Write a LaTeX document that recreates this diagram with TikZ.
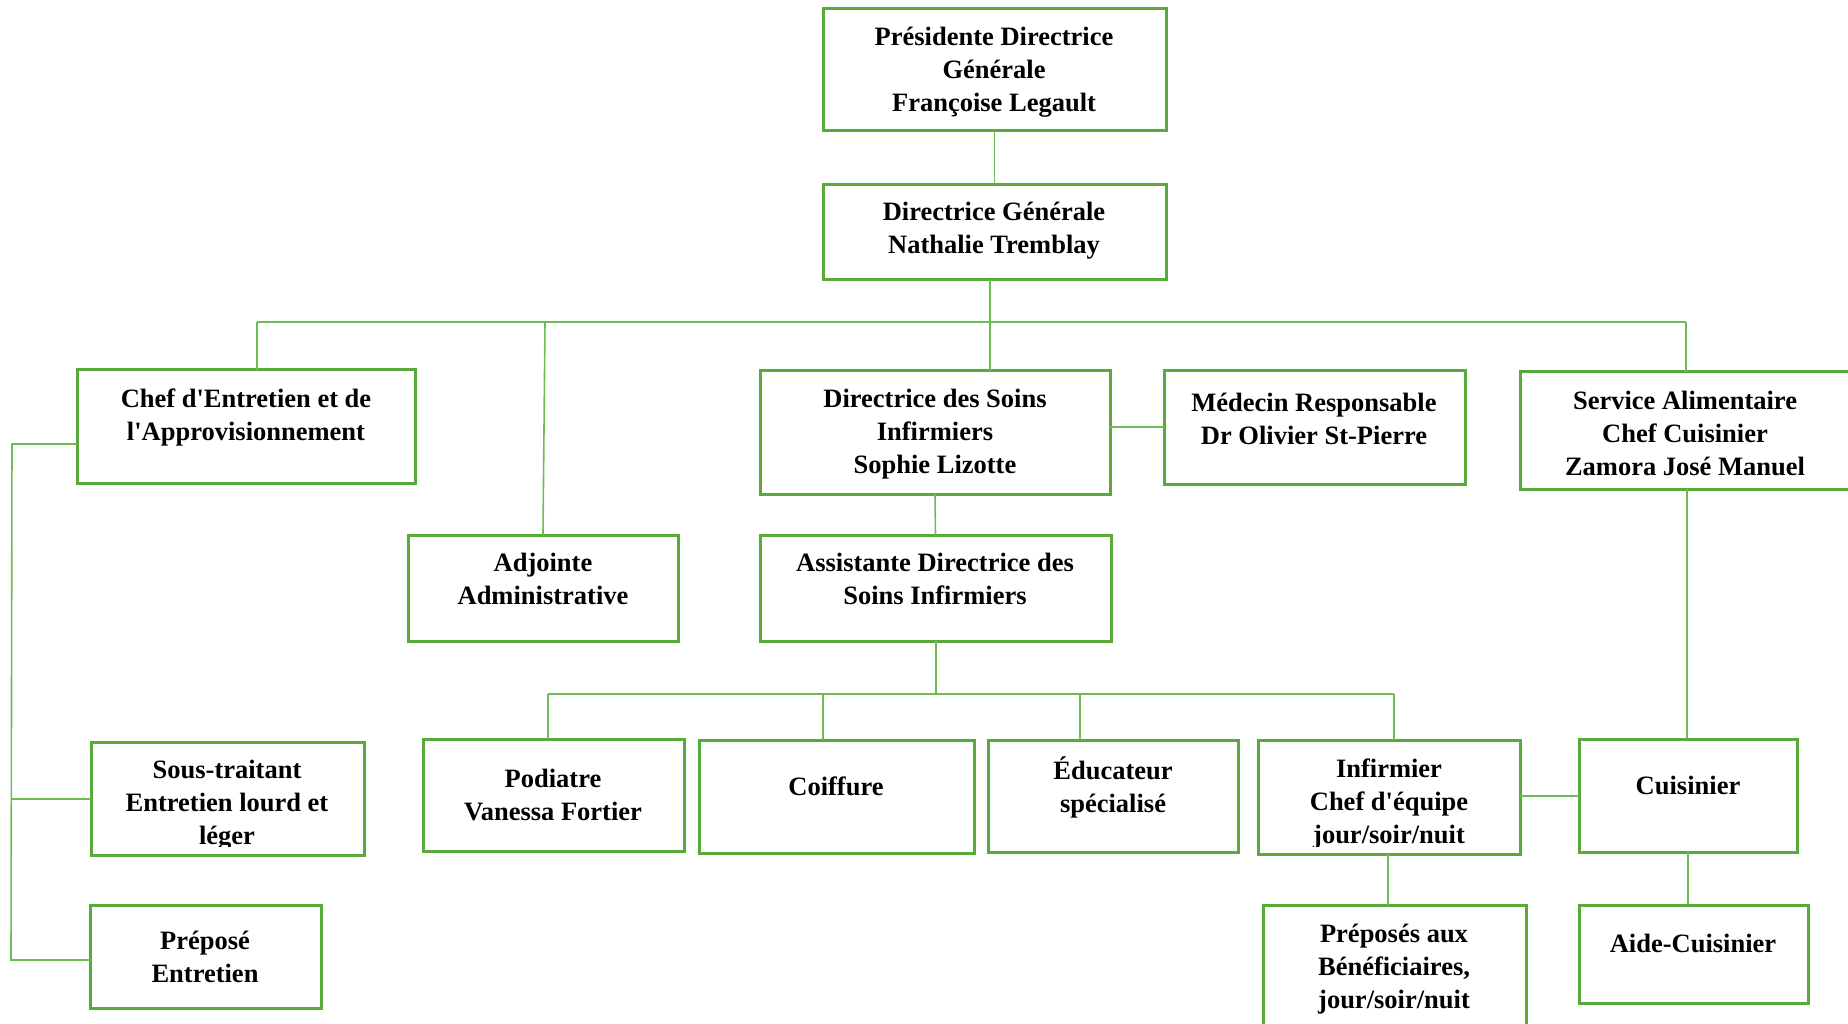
\documentclass[tikz,border=0pt]{standalone}
\usepackage{fontspec}
\setmainfont{Liberation Serif}
\definecolor{boxgreen}{RGB}{88,170,60}
\definecolor{linegreen}{RGB}{108,188,84}
\newcommand{\q}{\textquotesingle}
\tikzset{
  orgbox/.style={draw=boxgreen, line width=3pt, inner sep=0pt, outer sep=0pt, fill=none},
  orgtxt/.style={font=\fontsize{26.5}{33}\selectfont\bfseries, align=center, inner sep=0pt, anchor=base},
  conn/.style={draw=linegreen, line width=1.6pt},
}
% \mkbox{name}{x1}{y1}{x2}{y2}
\newcommand{\mkbox}[5]{%
  \node[orgbox, minimum width={(#4-#2)*1pt}, minimum height={(#5-#3)*1pt}] (#1) at ({(#2+#4)/2},{(#3+#5)/2}) {};}
% \mktxt{name}{x}{first baseline y}{number of lines}{text}
\newcommand{\mktxt}[5]{\node[orgtxt] (#1) at (#2,{#3+(#4-1)*33}) {#5};}
\begin{document}
\begin{tikzpicture}[x=1pt, y=-1pt]
\useasboundingbox (0,0) rectangle (1848,1024);
\fill[white] (0,0) rectangle (1848,1024);

% boxes
\mkbox{pdg}{823}{9}{1166}{131}
\mkbox{dg}{823}{185}{1166}{280}
\mkbox{chef}{77}{370}{415}{483}
\mkbox{adj}{408}{535}{678}{641}
\mkbox{dsi}{760}{371}{1110}{494}
\mkbox{med}{1164}{371}{1465}{484}
\mkbox{serv}{1520}{372}{1856}{489}
\mkbox{adsi}{760}{535}{1111}{641}
\mkbox{sous}{91}{742}{364}{855}
\mkbox{prep}{90}{905}{321}{1008}
\mkbox{pod}{423}{739}{684}{851}
\mkbox{coif}{699}{740}{974}{853}
\mkbox{educ}{988}{740}{1238}{852}
\mkbox{inf}{1258}{740}{1520}{854}
\mkbox{cuis}{1579}{739}{1797}{852}
\mkbox{pab}{1263}{905}{1526}{1040}
\mkbox{aide}{1579}{905}{1808}{1003}

% texts
\mktxt{pdg-t}{994}{46}{3}{Présidente Directrice\\Générale\\Françoise Legault}
\mktxt{dg-t}{994}{221}{2}{Directrice Générale\\Nathalie Tremblay}
\mktxt{chef-t}{246}{407}{2}{Chef d\q Entretien et de\\l\q Approvisionnement}
\mktxt{adj-t}{543}{571}{2}{Adjointe\\Administrative}
\mktxt{dsi-t}{935}{407}{3}{Directrice des Soins\\Infirmiers\\Sophie Lizotte}
\mktxt{med-t}{1314}{411}{2}{Médecin Responsable\\Dr Olivier St-Pierre}
\mktxt{serv-t}{1685}{409}{3}{Service Alimentaire\\Chef Cuisinier\\Zamora José Manuel}
\mktxt{adsi-t}{935}{571}{2}{Assistante Directrice des\\Soins Infirmiers}
\begin{scope}
  \clip (91,742) rectangle (364,846);
  \mktxt{sous-t}{227}{778}{3}{Sous-traitant\\Entretien lourd et\\léger}
\end{scope}
\mktxt{prep-t}{205}{949}{2}{Préposé\\Entretien}
\mktxt{pod-t}{553}{787}{2}{Podiatre\\Vanessa Fortier}
\mktxt{coif-t}{836}{795}{1}{Coiffure}
\mktxt{educ-t}{1113}{779}{2}{Éducateur\\spécialisé}
\begin{scope}
  \clip (1258,740) rectangle (1520,846);
  \mktxt{inf-t}{1389}{777}{3}{Infirmier\\Chef d\q équipe\\jour/soir/nuit}
\end{scope}
\mktxt{cuis-t}{1688}{794}{1}{Cuisinier}
\mktxt{pab-t}{1394}{942}{3}{Préposés aux\\Bénéficiaires,\\jour/soir/nuit}
\mktxt{aide-t}{1693}{952}{1}{Aide-Cuisinier}

% helper coordinates
\coordinate (hubA) at (990,322);
\coordinate (busL) at (257,322);
\coordinate (busR) at (1686,322);
\coordinate (adjTop) at (545,322);
\coordinate (lbTop) at (12,444);
\coordinate (lbMid) at (12,799);
\coordinate (lbBot) at (11,960);
\coordinate (dm) at (1137,427);
\coordinate (b2) at (936,694);
\coordinate (b2L) at (548,694);
\coordinate (b2C) at (823,694);
\coordinate (b2E) at (1080,694);
\coordinate (b2R) at (1394,694);
\coordinate (ic) at (1550,796);
\coordinate (sc) at (1687,600);
\coordinate (ip) at (1388,880);
\coordinate (ca) at (1688,880);

% connectors
\draw[conn] (pdg.south) -- (dg.north);
\draw[conn] (dg.south -| hubA) -- (hubA);
\draw[conn] (hubA) -- (dsi.north -| hubA);
\draw[conn] (busL) -- (busR);
\draw[conn] (busL) -- (chef.north -| busL);
\draw[conn] (adjTop) -- (adj.north);
\draw[conn] (busR) -- (serv.north -| busR);
\draw[conn] (chef.west |- lbTop) -- (lbTop) -- (lbBot) -- (prep.west |- lbBot);
\draw[conn] (lbMid) -- (sous.west |- lbMid);
\draw[conn] (dsi.east |- dm) -- (med.west |- dm);
\draw[conn] (dsi.south) -- (adsi.north);
\draw[conn] (adsi.south -| b2) -- (b2);
\draw[conn] (b2L) -- (b2R);
\draw[conn] (b2L) -- (pod.north -| b2L);
\draw[conn] (b2C) -- (coif.north -| b2C);
\draw[conn] (b2E) -- (educ.north -| b2E);
\draw[conn] (b2R) -- (inf.north -| b2R);
\draw[conn] (inf.east |- ic) -- (cuis.west |- ic);
\draw[conn] (serv.south -| sc) -- (cuis.north -| sc);
\draw[conn] (inf.south -| ip) -- (pab.north -| ip);
\draw[conn] (cuis.south -| ca) -- (aide.north -| ca);
\end{tikzpicture}
\end{document}
